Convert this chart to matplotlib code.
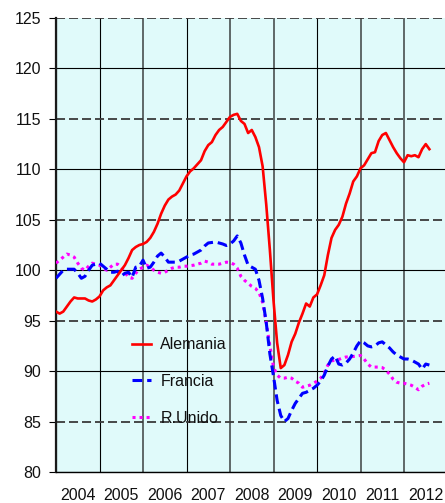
import matplotlib
matplotlib.use('Agg')
import matplotlib.pyplot as plt
from matplotlib.ticker import FixedLocator, FormatStrFormatter, NullFormatter, FixedFormatter
import numpy as np

# ---------------- data (monthly index, Jan 2004 = first value) ----------------
start_year = 2004

alemania = [
    95.9, 95.7, 95.9, 96.4, 96.9, 97.3, 97.2, 97.2, 97.2, 97.0, 96.9, 97.1,
    97.4, 98.0, 98.3, 98.5, 99.0, 99.5, 100.0, 100.5, 101.2, 102.0, 102.3, 102.5,
    102.6, 102.8, 103.2, 103.8, 104.6, 105.6, 106.4, 107.0, 107.3, 107.5, 107.9, 108.6,
    109.3, 109.8, 110.1, 110.5, 110.9, 111.8, 112.4, 112.7, 113.4, 113.9, 114.2, 114.7,
    115.2, 115.4, 115.5, 114.8, 114.5, 113.6, 113.9, 113.2, 112.2, 110.3, 106.5, 102.0,
    97.0, 92.8, 90.3, 90.6, 91.6, 92.9, 93.7, 94.8, 95.7, 96.7, 96.4, 97.3,
    97.6, 98.5, 99.5, 101.5, 103.2, 104.0, 104.5, 105.3, 106.6, 107.6, 108.8, 109.3,
    110.1, 110.4, 111.0, 111.6, 111.7, 112.8, 113.4, 113.6, 112.9, 112.2, 111.6, 111.1,
    110.7, 111.4, 111.3, 111.4, 111.2, 112.0, 112.5, 112.0,
]

francia = [
    99.2, 99.6, 100.0, 100.1, 100.1, 100.1, 99.7, 99.2, 99.4, 100.0, 100.5, 100.6,
    100.7, 100.4, 100.1, 99.8, 99.8, 99.9, 99.4, 99.7, 99.8, 99.3, 100.3, 100.4,
    101.0, 100.2, 100.3, 100.8, 101.4, 101.7, 101.3, 100.8, 100.8, 100.8, 100.9, 101.1,
    101.3, 101.5, 101.6, 101.8, 102.0, 102.4, 102.7, 102.75, 102.8, 102.7, 102.6, 102.45,
    102.6, 102.9, 103.4, 102.7, 101.5, 100.5, 100.3, 100.1, 99.0, 97.2, 94.8, 91.7,
    89.5, 87.1, 85.6, 85.0, 85.3, 86.1, 86.8, 87.3, 87.8, 87.9, 88.1, 88.3,
    88.6, 89.0, 89.6, 90.5, 91.2, 91.5, 90.7, 90.6, 90.8, 91.2, 91.8, 92.5,
    93.0, 92.8, 92.5, 92.4, 92.5, 92.8, 92.9, 92.6, 92.3, 91.9, 91.6, 91.4,
    91.2, 91.2, 91.1, 90.9, 90.7, 90.2, 90.7, 90.6,
]

reino_unido = [
    100.7, 101.0, 101.3, 101.6, 101.5, 101.3, 100.7, 100.2, 100.0, 100.4, 100.7, 100.6,
    100.5, 100.2, 100.0, 100.3, 100.6, 100.6, 100.3, 99.8, 99.3, 99.2, 99.7, 100.1,
    100.3, 100.5, 100.3, 100.0, 99.8, 99.7, 99.8, 100.0, 100.2, 100.3, 100.3, 100.4,
    100.4, 100.45, 100.5, 100.6, 100.7, 100.9, 100.8, 100.6, 100.6, 100.6, 100.7, 100.8,
    100.75, 100.6, 100.2, 99.4, 99.0, 98.7, 98.4, 98.2, 97.8, 96.8, 94.8, 92.5,
    90.4, 89.6, 89.3, 89.3, 89.4, 89.3, 89.0, 88.8, 88.4, 88.5, 88.6, 88.8,
    89.0, 89.3, 89.8, 90.6, 91.0, 91.1, 91.15, 91.3, 91.4, 91.4, 91.45, 91.5,
    91.55, 91.2, 90.7, 90.4, 90.4, 90.4, 90.35, 90.1, 89.7, 89.2, 88.9, 88.8,
    88.8, 88.7, 88.6, 88.4, 88.15, 88.5, 88.7, 88.8,
]

series_labels = ['Alemania', 'Francia', 'R.Unido']
year_labels = ['2004', '2005', '2006', '2007', '2008', '2009', '2010', '2011', '2012']
y_major = [80, 90, 100, 110, 120]
y_minor = [85, 95, 105, 115, 125]

# ---------------- figure ----------------
plt.rcParams['font.family'] = ['Liberation Sans', 'DejaVu Sans']
fig = plt.figure(figsize=(4.45, 5.03), dpi=100)
ax = fig.add_axes([56 / 445, 31 / 503, 389 / 445, 454 / 503])
ax.set_facecolor('#E0FAFA')

t = start_year + np.arange(len(alemania)) / 12.0
ax.plot(t, alemania, color='#FF0000', lw=1.9, label=series_labels[0], zorder=5)
ax.plot(t, francia, color='#0000FF', lw=2.2, ls=(0, (3.2, 1.6)),
        dash_capstyle='butt', label=series_labels[1], zorder=4)
ax.plot(t, reino_unido, color='#FF00FF', lw=2.2, ls=(0, (1.0, 1.3)),
        dash_capstyle='butt', label=series_labels[2], zorder=3)

ax.set_xlim(2004, 2004 + 389 / 43.5)
ax.set_ylim(80, 125)

# y axis: solid grid at 80,90..., dashed grid at 85,95,...
ax.yaxis.set_major_locator(FixedLocator(y_major))
ax.yaxis.set_minor_locator(FixedLocator(y_minor))
ax.yaxis.set_major_formatter(FormatStrFormatter('%d'))
ax.yaxis.set_minor_formatter(FormatStrFormatter('%d'))
ax.tick_params(axis='y', which='both', direction='out', length=5, width=0.8,
               color='black', labelsize=11.5, pad=5.5, labelcolor='#111111')
ax.grid(True, axis='y', which='major', color='black', lw=0.8, ls='-')
ax.grid(True, axis='y', which='minor', color='#3a3a3a', lw=1.3, ls=(0, (5, 2.2)))

# x axis: gridlines at year boundaries, labels centred within each year
years = [start_year + i for i in range(len(year_labels))]
ax.xaxis.set_major_locator(FixedLocator(years))
ax.xaxis.set_major_formatter(NullFormatter())
ax.xaxis.set_minor_locator(FixedLocator([y + 0.5 for y in years]))
ax.xaxis.set_minor_formatter(FixedFormatter(year_labels))
ax.tick_params(axis='x', which='both', length=0, labelsize=11.5, pad=11.5,
               labelcolor='#111111')
ax.grid(True, axis='x', which='major', color='black', lw=0.8)
gray_years = {2006, 2008, 2009, 2011, 2012}
for yr, gl in zip(years, ax.get_xgridlines()):
    if yr in gray_years:
        gl.set_color('#5f6868')
        gl.set_linewidth(1.4)
ax.set_axisbelow(True)

for s in ['top', 'right']:
    ax.spines[s].set_visible(False)
ax.spines['left'].set_linewidth(1.6)
ax.spines['left'].set_color('#1a1a1a')
ax.spines['bottom'].set_linewidth(1.0)
ax.spines['bottom'].set_color('black')

leg = ax.legend(loc='upper left', bbox_to_anchor=(0.18, 0.311), frameon=False,
                fontsize=11.5, handlelength=1.15, handletextpad=0.6,
                labelspacing=1.36, borderaxespad=0)
for txt in leg.get_texts():
    txt.set_color('#111111')

fig.savefig('out.png', dpi=100)
